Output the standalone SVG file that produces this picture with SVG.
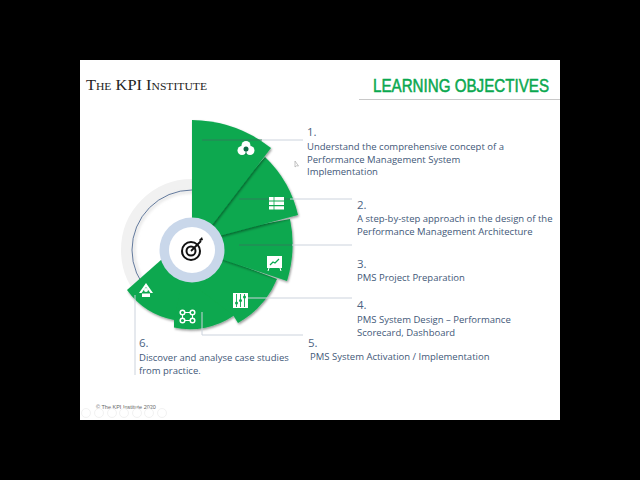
<svg xmlns="http://www.w3.org/2000/svg" width="640" height="480" viewBox="0 0 640 480">
<style>
.t{font-family:"Open Sans","Noto Sans","Liberation Sans",sans-serif;font-size:9.5px;fill:#3f5878}
.n{font-family:"Open Sans","Noto Sans","Liberation Sans",sans-serif;font-size:11.5px;fill:#4c6483}
.seg{fill:#0aa84f}
.l{fill:none;stroke:#ccd3dd;stroke-width:1}
.ld{fill:none;stroke:#2f7f5a;stroke-width:1}
.i{fill:#fff}
.is{fill:none;stroke:#fff;stroke-width:1.500}
</style>
<defs>
<filter id="sh" x="-20%" y="-20%" width="140%" height="140%"><feDropShadow dx="1" dy="1.500" stdDeviation="1.300" flood-color="#000" flood-opacity=".4"/></filter>
<filter id="sf" x="-20%" y="-20%" width="140%" height="140%"><feGaussianBlur stdDeviation="1.500"/></filter>
</defs>
<rect width="640" height="480" fill="#000"/>
<rect x="80" y="60" width="480" height="360" fill="#fff"/>
<g id="header">
<text x="86" y="90" font-family="Liberation Serif,serif" font-size="15.500" fill="#222" textLength="121" lengthAdjust="spacingAndGlyphs">T<tspan font-size="11">HE</tspan> KPI I<tspan font-size="11">NSTITUTE</tspan></text>
<text x="373" y="92" font-family="Liberation Sans,sans-serif" font-size="18" stroke="#0aa84f" stroke-width=".5" fill="#0aa84f" textLength="176" lengthAdjust="spacingAndGlyphs">LEARNING OBJECTIVES</text>
<rect x="359" y="99" width="201" height="1" fill="#c8c8c8"/>
</g>
<g id="backdrop">
<circle cx="192" cy="250" r="65.500" fill="none" stroke="#f1f1f1" stroke-width="11"/>
<circle cx="192" cy="250" r="58" fill="none" stroke="#e2e2e2" stroke-width="2.500" filter="url(#sf)"/>
<circle cx="192" cy="250" r="60" fill="none" stroke="#3d5a86" stroke-width=".8"/>
</g>
<g filter="url(#sh)">
<g id="segment-6"><path class="seg" d="M161 260L127 290A76 76 0 0 0 174 320L200 270Z"/></g>
<g id="segment-5"><path class="seg" d="M185 270L174 319V327.500A78 78 0 0 0 234 315.500L240 290Z"/></g>
<g id="segment-4"><path class="seg" d="M222 258L277 279A90 90 0 0 1 238 323L233 315L200 290Z"/></g>
</g>
<g id="segment-3"><path class="seg" filter="url(#sh)" d="M215 233L290 219A125 125 0 0 1 287 281L215 257Z"/></g>
<g id="segment-2"><path class="seg" filter="url(#sh)" d="M205 224L265 157A116 116 0 0 1 298 215L215 237Z"/></g>
<g id="segment-1"><path class="seg" filter="url(#sh)" d="M192 120A130 130 0 0 1 271 148L212 225L192 250Z"/></g>
<g id="hub">
<circle cx="192" cy="250" r="32.500" fill="#c9d7ea"/>
<circle cx="192" cy="250" r="23" fill="#fff"/>
<circle cx="191" cy="251" r="9" fill="none" stroke="#111" stroke-width="2"/>
<circle cx="191" cy="251" r="4.500" fill="none" stroke="#111" stroke-width="2"/>
<path d="M191 251L201 241" stroke="#111" stroke-width="1.800"/>
<path d="M199 240l3-3 1 3-3 1z" fill="#111"/>
</g>
<g id="connectors">
<path class="ld" d="M202 140H262"/><path class="l" d="M262 140H303"/>
<path class="ld" d="M239 199H290"/><path class="l" d="M290 199H352"/>
<path class="ld" d="M239 245H292"/><path class="l" d="M292 245H352"/>
<path class="l" d="M248 298H352"/>
<path class="l" d="M202 312V335H303"/>
<path class="l" d="M135 295V375"/>
</g>
<g id="icon-1"><circle cx="246" cy="145.500" r="4.500" class="i"/><circle cx="242" cy="150.500" r="4.500" class="i"/><circle cx="250" cy="150.500" r="4.500" class="i"/><circle cx="246" cy="149" r="2.500" fill="#0d6b45"/><path d="M246 151v4" stroke="#0d6b45" stroke-width=".8"/></g>
<g id="icon-2"><path d="M269 197h15v3.400h-15zM269 201.600h15v3.400h-15zM269 206.200h15v3.400h-15z" class="i"/><path d="M274 197v13" stroke="#0aa84f" stroke-width=".8"/></g>
<g id="icon-3"><rect x="267" y="256" width="15" height="12" class="i"/><path d="M270 265l3-3 2 1 4-4" fill="none" stroke="#0aa84f" stroke-width="1.200"/><path d="M269 268l-1 3M280 268l1 3" stroke="#fff" stroke-width="1"/></g>
<g id="icon-4"><rect x="233" y="293" width="15" height="15" class="i"/><path d="M236.500 294v13M240.500 294v13M244.500 294v13" stroke="#0aa84f" stroke-width=".9"/><circle cx="236.500" cy="303" r="1.500" fill="#0aa84f"/><circle cx="240.500" cy="300.500" r="1.500" fill="#0aa84f"/><circle cx="244.500" cy="297" r="1.500" fill="#0aa84f"/></g>
<g id="icon-5"><circle cx="182.500" cy="312.500" r="2.300" class="is"/><circle cx="192.500" cy="312.500" r="2.300" class="is"/><circle cx="182.500" cy="320.500" r="2.300" class="is"/><circle cx="192.500" cy="320.500" r="2.300" class="is"/><path d="M185 312.500h5M185 320.500h5M182.500 315v3M192.500 315v3" stroke="#fff" stroke-width="1"/></g>
<g id="icon-6"><path d="M146 283l7 10h-2.500l-4.500-6-4.500 6H139z" class="i"/><circle cx="146" cy="290" r="2" class="i"/><path d="M142 297h8v-3.500h-8z" class="i"/></g>
<g id="labels">
<text class="n" x="307" y="136">1.</text>
<text class="t" x="307" y="150">Understand the comprehensive concept of a</text>
<text class="t" x="307" y="163">Performance Management System</text>
<text class="t" x="307" y="175">Implementation</text>
<text class="n" x="357" y="209">2.</text>
<text class="t" x="357" y="222">A step-by-step approach in the design of the</text>
<text class="t" x="357" y="235">Performance Management Architecture</text>
<text class="n" x="357" y="268">3.</text>
<text class="t" x="357" y="281">PMS Project Preparation</text>
<text class="n" x="357" y="309">4.</text>
<text class="t" x="357" y="323">PMS System Design – Performance</text>
<text class="t" x="357" y="336">Scorecard, Dashboard</text>
<text class="n" x="308" y="347">5.</text>
<text class="t" x="310" y="360">PMS System Activation / Implementation</text>
<text class="n" x="139" y="347">6.</text>
<text class="t" x="139" y="361">Discover and analyse case studies</text>
<text class="t" x="139" y="374">from practice.</text>
</g>
<g id="footer">
<text x="96" y="409" font-family="Liberation Sans,sans-serif" font-size="5.500" fill="#666">© The KPI Institute 2020</text>
<g fill="none" stroke="#f2f2f2"><circle cx="86" cy="413" r="4.500"/><circle cx="99" cy="413" r="4.500"/><circle cx="112" cy="413" r="4.500"/><circle cx="124" cy="413" r="4.500"/><circle cx="137" cy="413" r="4.500"/><circle cx="149" cy="413" r="4.500"/><circle cx="162" cy="413" r="4.500"/></g>
</g>
<path id="cursor" d="M295 161v6l1.500-1.200 2 .2z" fill="#fff" stroke="#aaa" stroke-width=".7"/>
</svg>
